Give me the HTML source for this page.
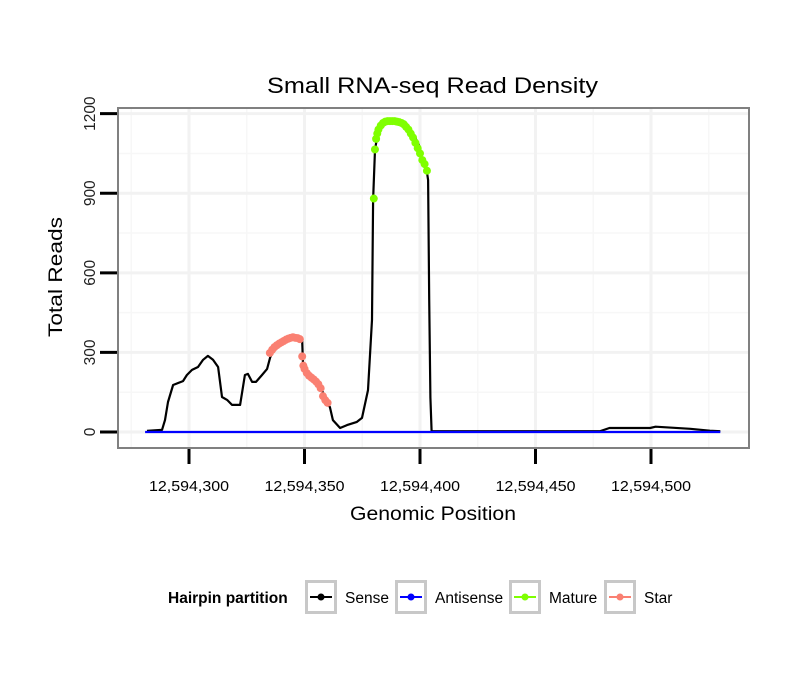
<!DOCTYPE html>
<html><head><meta charset="utf-8"><style>
body{margin:0;background:#fff}
svg text{font-family:"Liberation Sans",Arial,sans-serif}
</style></head><body>
<svg id="chart" width="810" height="690" viewBox="0 0 810 690" xmlns="http://www.w3.org/2000/svg">
<rect width="810" height="690" fill="#fff"/>
<text x="267" y="93" font-size="22" textLength="331" lengthAdjust="spacingAndGlyphs">Small RNA-seq Read Density</text>
<g id="grid"></g>
<g id="series"></g>
<rect x="118" y="108" width="631" height="340" fill="none" stroke="#808080" stroke-width="2"/>
<g id="axes"></g>
<text x="350" y="520" font-size="19" textLength="166" lengthAdjust="spacingAndGlyphs">Genomic Position</text>
<text transform="translate(62,337) rotate(-90)" font-size="19" textLength="120" lengthAdjust="spacingAndGlyphs">Total Reads</text>
<g>
<text x="168" y="603" font-size="15.5" font-weight="bold">Hairpin partition</text>
<g id="legend"></g>
</g>
</svg>
<script>
const xTicks=[12594300,12594350,12594400,12594450,12594500];
const yTicks=[0,300,600,900,1200];
const senseX=[281.8,288.3,289.6,290.9,293.1,297.4,299.1,301.3,303.9,306.1,308.2,310.4,312.6,314.3,316.5,318.6,322.1,324.2,325.5,327.3,329,331.6,333.8,335.1,337.2,339.4,342,345,347.2,349,349.4,351,353,355.4,357.6,358.9,361,362.3,365.4,368.4,372.7,374.9,377.5,379.2,379.7,380.5,381.4,383.5,387,391.3,394.8,397.8,400,400.9,403,403.5,404,404.5,405,478,482,499.6,502,517,525.5,530];
const senseY=[4,8,45,113,177,192,215,234,245,272,287,272,245,132,121,102,102,215,219,189,189,215,238,280,321,336,351,358,355,343,245,223,204,185,158,121,94,45,15,26,38,53,158,423,875,1064,1109,1151,1170,1170,1151,1113,1072,1019,981,950,500,130,3,3,15,15,20,12,5,3];
const antiX=[281,530];
const antiY=[0,0];
const matureX=[380,380.5,381,381.5,382,383,384,385,386,387,388,389,390,391,392,393,394,395,396,397,398,399,400,401,402,403];
const matureY=[880,1065,1105,1125,1140,1155,1165,1170,1172,1172,1172,1172,1170,1168,1165,1160,1150,1140,1125,1110,1090,1070,1050,1025,1010,985];
const starX=[335,336,337,338,339,340,341,342,343,344,345,346,347,348,349,349.5,350,351,352,353,354,355,356,357,358,359,360];
const starY=[298,310,320,327,333,338,343,348,352,355,357,355,354,350,285,250,238,222,212,205,198,190,180,165,135,120,110];
const legendLabels=["Sense","Antisense","Mature","Star"];
const legendColors=["#000000","#0000ff","#7fff00","#fa8072"];
const ns="http://www.w3.org/2000/svg";
const X=p=>189+(p-300)*2.31;
const XG=g=>X(g-12594000);
const Y=v=>432-v*0.26528;
function mk(t,a,parent){const e=document.createElementNS(ns,t);for(const k in a)e.setAttribute(k,a[k]);parent.appendChild(e);return e;}
const grid=document.getElementById('grid'),axes=document.getElementById('axes'),series=document.getElementById('series');
for(let i=0;i<xTicks.length+1;i++){const g=xTicks[0]-25+i*50;const x=XG(g);if(x>118&&x<749){const l=mk('line',{x1:x,x2:x,y1:108,y2:448,stroke:'#f7f7f7','stroke-width':1.5},grid);}}
for(let i=0;i<yTicks.length;i++){const v=yTicks[i]+150;const y=Y(v);if(y>108&&y<448){const l=mk('line',{x1:118,x2:749,y1:y,y2:y,stroke:'#f7f7f7','stroke-width':1.5},grid);}}
xTicks.forEach(t=>{const x=XG(t);
const g=mk('line',{x1:x,x2:x,y1:108,y2:448,stroke:'#f2f2f2','stroke-width':3},grid);
const tk=mk('line',{x1:x,x2:x,y1:449,y2:464,stroke:'#000','stroke-width':3},axes);
const s=t.toLocaleString('en-US');
const tx=mk('text',{x:x-40,y:491,'font-size':15,textLength:80,lengthAdjust:'spacingAndGlyphs'},axes);tx.textContent=s;});
yTicks.forEach(t=>{const y=Y(t);
const g=mk('line',{x1:118,x2:749,y1:y,y2:y,stroke:'#f2f2f2','stroke-width':3},grid);
const tk=mk('line',{x1:100,x2:117,y1:y,y2:y,stroke:'#000','stroke-width':3},axes);
const s=String(t);const len=s.length*8.6;
const tx=mk('text',{transform:`translate(95,${y+len/2}) rotate(-90)`,'font-size':16,fill:'#222',textLength:len,lengthAdjust:'spacingAndGlyphs'},axes);tx.textContent=s;});
function line(xs,ys,color,name){const d=xs.map((p,i)=>(i?'L':'M')+X(p).toFixed(1)+','+Y(ys[i]).toFixed(1)).join('');const e=mk('path',{d:d,fill:'none',stroke:color,'stroke-width':2.2,'stroke-linejoin':'round'},series);}
function dots(xs,ys,color,name){xs.forEach((p,i)=>{const c=mk('circle',{cx:X(p),cy:Y(ys[i]),r:4,fill:color},series);});}
line(senseX,senseY,'#000','sense-line');
line(antiX,antiY,'#0000ff','antisense-line');
dots(starX,starY,'#fa8072','star-point');
dots(matureX,matureY,'#7fff00','mature-point');
const leg=document.getElementById('legend');const bx=[305,395,509,604];
legendLabels.forEach((lab,i)=>{const x=bx[i];
const r=mk('rect',{x:x+1.5,y:581.5,width:29,height:31,fill:'#fff',stroke:'#c8c8c8','stroke-width':3},leg);
const l=mk('line',{x1:x+5,x2:x+27,y1:597,y2:597,stroke:legendColors[i],'stroke-width':2},leg);
const c=mk('circle',{cx:x+16,cy:597,r:3.5,fill:legendColors[i]},leg);
const t=mk('text',{x:x+40,y:603,'font-size':15.5},leg);t.textContent=lab;});
</script>
</body></html>
